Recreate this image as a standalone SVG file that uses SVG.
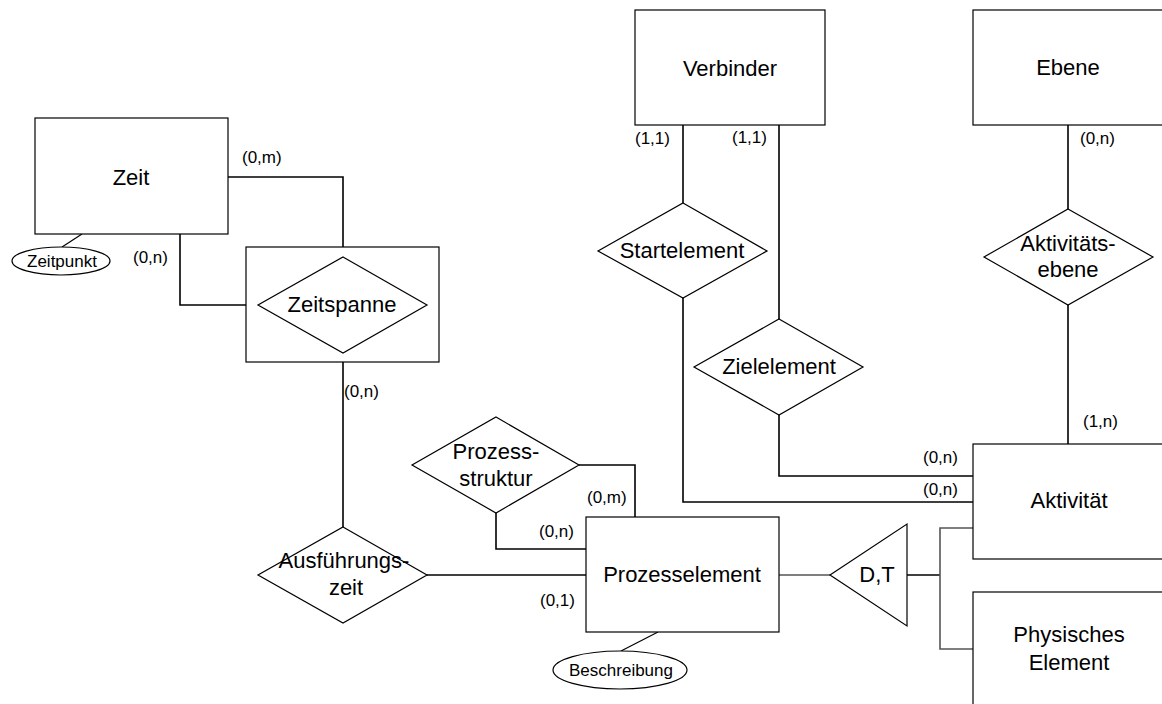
<svg xmlns="http://www.w3.org/2000/svg" width="1162" height="704" viewBox="0 0 1162 704">
<style>
.shape{fill:#fff;stroke:#000;stroke-width:1.2}
.conn{fill:none;stroke:#000;stroke-width:1.6}
.gray{stroke:#555}
.t{font-family:"Liberation Sans",Arial,sans-serif;font-size:22px;fill:#000;text-anchor:middle}
.a{font-family:"Liberation Sans",Arial,sans-serif;font-size:17px;fill:#000;text-anchor:middle}
.c{font-family:"Liberation Sans",Arial,sans-serif;font-size:17px;fill:#000}
</style>
<rect width="1162" height="704" fill="#fff"/>
<g id="connectors">
<path class="conn" d="M228,177 H343 V257"/>
<path class="conn" d="M180,234 V305 H258"/>
<path class="conn" d="M343,362 V527"/>
<path class="conn" d="M427,575 H586"/>
<path class="conn" d="M579,465 H635 V517"/>
<path class="conn" d="M496,513 V549 H586"/>
<path class="conn" d="M683,125 V203"/>
<path class="conn" d="M683,298 V502 H973"/>
<path class="conn" d="M779,125 V319"/>
<path class="conn" d="M779,415 V476 H973"/>
<path class="conn" d="M1068,125 V209"/>
<path class="conn" d="M1068,305 V444"/>
<path class="conn gray" d="M779,575 H830"/>
<path class="conn" d="M907,575 H940"/>
<path class="conn gray" d="M973,528 H940 V649 H973"/>
<path class="conn" style="stroke-width:1.2" d="M82,234 L62,247"/>
<path class="conn" style="stroke-width:1.2" d="M658,632 L621,651"/>
<text class="c" x="242" y="163">(0,m)</text>
<text class="c" x="133" y="263">(0,n)</text>
<text class="c" x="344" y="397">(0,n)</text>
<text class="c" x="540" y="606">(0,1)</text>
<text class="c" x="587" y="503">(0,m)</text>
<text class="c" x="539" y="537">(0,n)</text>
<text class="c" x="635" y="144">(1,1)</text>
<text class="c" x="732" y="143">(1,1)</text>
<text class="c" x="1080" y="144">(0,n)</text>
<text class="c" x="1083" y="427">(1,n)</text>
<text class="c" x="923" y="463">(0,n)</text>
<text class="c" x="923" y="495">(0,n)</text>
</g>
<g id="zeit">
<rect class="shape" x="35" y="118" width="193" height="116"/>
<text class="t" x="131" y="185">Zeit</text>
</g>
<g id="zeitpunkt">
<ellipse class="shape" cx="61" cy="261" rx="49" ry="14"/>
<text class="a" x="62" y="267">Zeitpunkt</text>
</g>
<g id="zeitspanne">
<rect class="shape" x="246" y="247" width="193" height="115"/>
<polygon class="shape" points="343,257 427,305 343,353 258,305"/>
<text class="t" x="342" y="312">Zeitspanne</text>
</g>
<g id="ausfuehrungszeit">
<polygon class="shape" points="343,527 427,575 343,623 258,575"/>
<text class="t" x="344" y="568">Ausführungs-</text>
<text class="t" x="346" y="595">zeit</text>
</g>
<g id="prozessstruktur">
<polygon class="shape" points="496,417 579,465 496,513 412,465"/>
<text class="t" x="496" y="459">Prozess-</text>
<text class="t" x="496" y="486">struktur</text>
</g>
<g id="prozesselement">
<rect class="shape" x="586" y="517" width="193" height="115"/>
<text class="t" x="682" y="582">Prozesselement</text>
</g>
<g id="beschreibung">
<ellipse class="shape" cx="620" cy="670" rx="67" ry="19"/>
<text class="a" x="621" y="676">Beschreibung</text>
</g>
<g id="verbinder">
<rect class="shape" x="635" y="10" width="190" height="115"/>
<text class="t" x="730" y="76">Verbinder</text>
</g>
<g id="ebene">
<rect class="shape" x="973" y="10" width="195" height="115"/>
<text class="t" x="1068" y="75">Ebene</text>
</g>
<g id="startelement">
<polygon class="shape" points="683,203 767,251 683,298 598,251"/>
<text class="t" x="682" y="258">Startelement</text>
</g>
<g id="zielelement">
<polygon class="shape" points="779,319 863,367 779,415 694,367"/>
<text class="t" x="779" y="374">Zielelement</text>
</g>
<g id="aktivitaetsebene">
<polygon class="shape" points="1068,209 1153,257 1068,305 984,257"/>
<text class="t" x="1068" y="251">Aktivitäts-</text>
<text class="t" x="1068" y="277">ebene</text>
</g>
<g id="aktivitaet">
<rect class="shape" x="973" y="444" width="195" height="115"/>
<text class="t" x="1069" y="508">Aktivität</text>
</g>
<g id="dt">
<polygon class="shape" points="830,575 907,524 907,626"/>
<text class="t" x="877" y="582">D,T</text>
</g>
<g id="physisches-element">
<rect class="shape" x="973" y="592" width="195" height="125"/>
<text class="t" x="1069" y="642">Physisches</text>
<text class="t" x="1069" y="670">Element</text>
</g>
</svg>
